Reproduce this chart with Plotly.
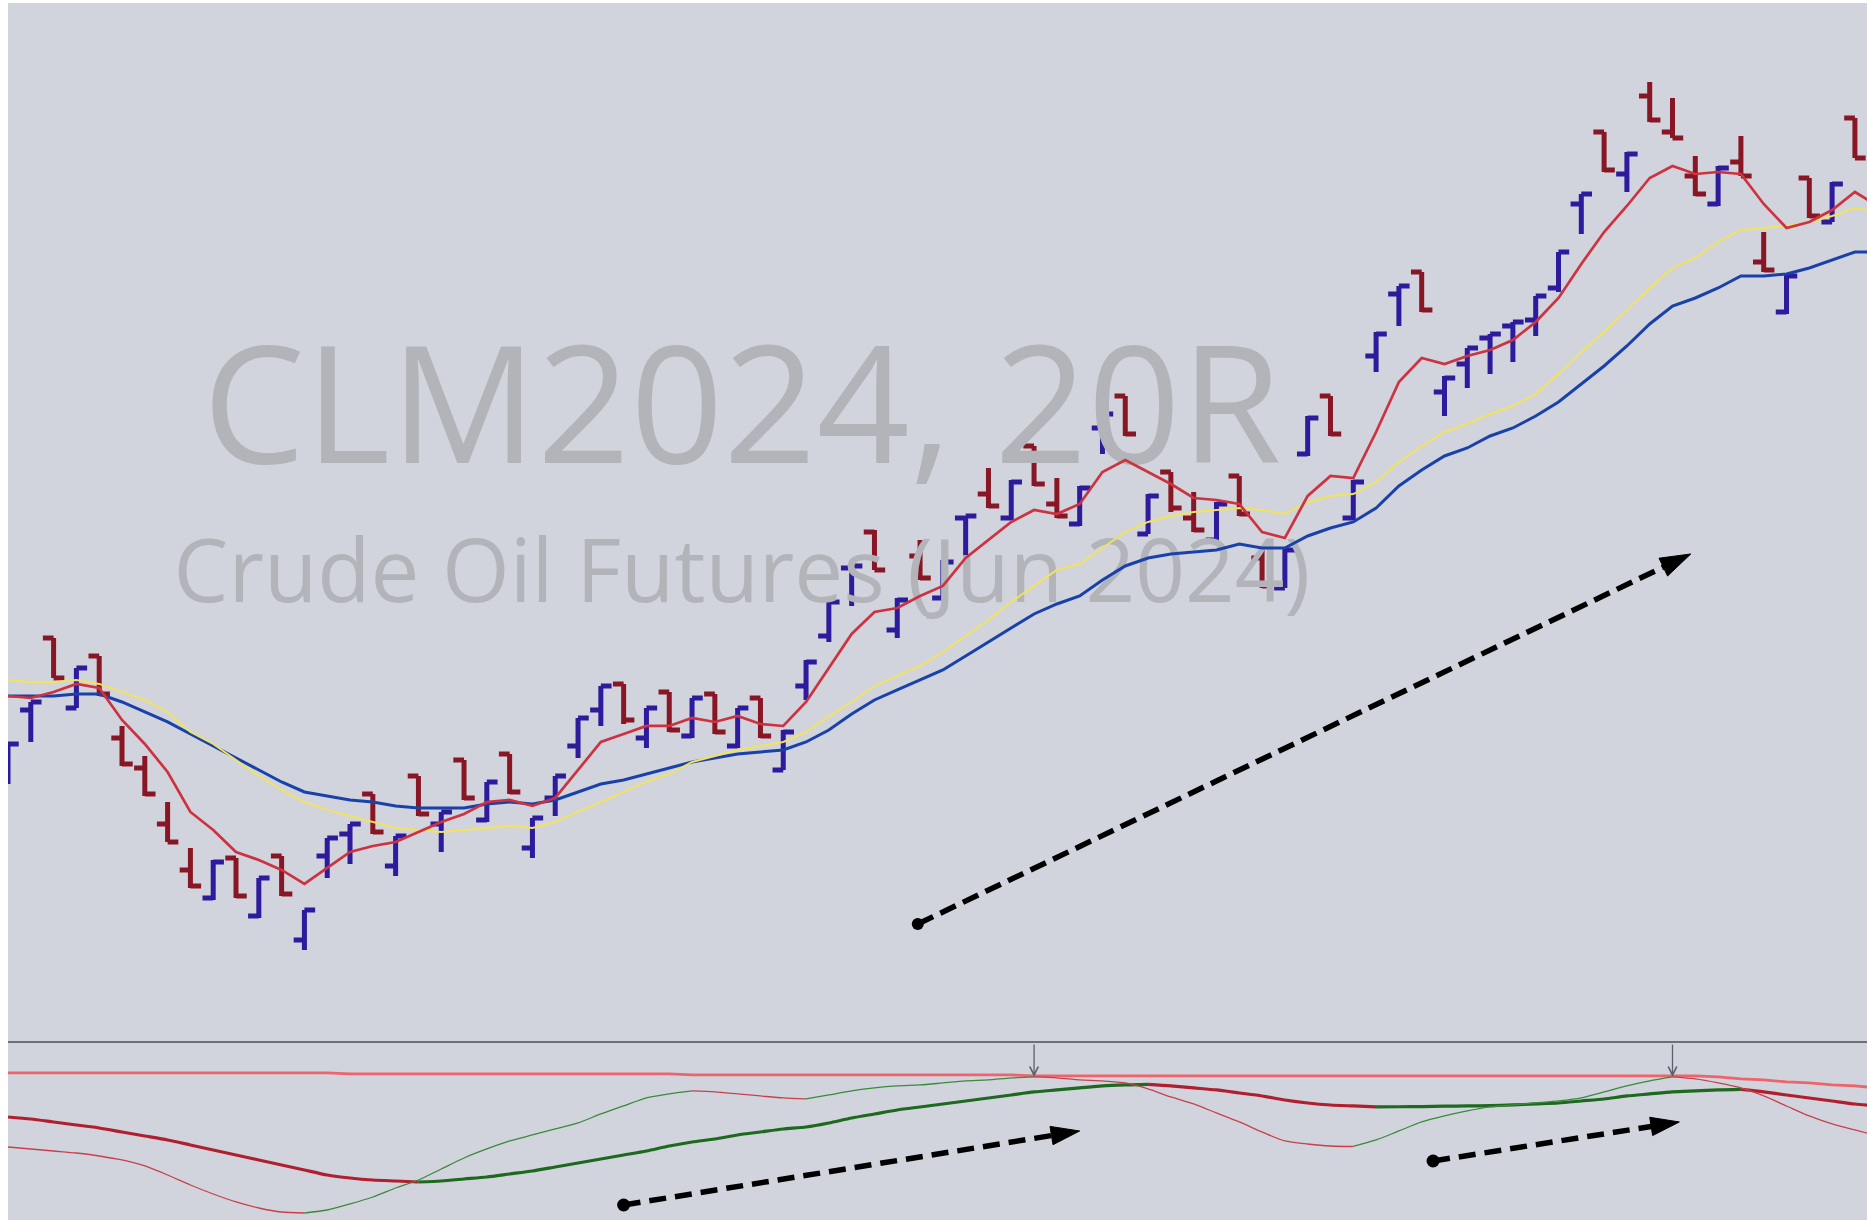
import plotly.graph_objects as go

# ---------------- data ----------------
# 20-tick range bars, CLM2024 (Crude Oil Futures Jun 2024)
bar_open = [83.65, 83.97, 84.33, 83.98, 84.24, 83.83, 83.68, 83.40, 83.17, 83.03,
            83.23, 82.94, 83.24, 82.82, 83.24, 83.35, 83.55, 83.19, 83.64, 83.40,
            83.72, 83.42, 83.75, 83.28, 83.53, 83.79, 83.97, 84.10, 83.83, 84.06,
            83.84, 84.05, 83.79, 84.03, 83.67, 84.09, 84.34, 84.68, 84.86, 84.37,
            84.74, 84.53, 84.93, 85.05, 84.93, 85.29, 85.00, 84.90, 85.38, 85.54,
            84.85, 85.16, 84.93, 84.82, 85.14, 84.73, 84.58, 85.25, 85.54, 84.93,
            85.74, 86.05, 86.16, 85.56, 85.70, 85.83, 85.89, 85.92, 86.08, 86.50,
            86.86, 86.65, 87.04, 86.86, 86.64, 86.50, 86.71, 86.21, 85.96, 86.63,
            86.41, 86.93]
bar_high = [83.80, 84.01, 84.33, 84.18, 84.24, 83.89, 83.74, 83.51, 83.28, 83.22,
            83.23, 83.13, 83.24, 82.97, 83.33, 83.40, 83.55, 83.34, 83.64, 83.46,
            83.72, 83.61, 83.75, 83.43, 83.64, 83.93, 84.09, 84.10, 83.98, 84.06,
            84.03, 84.05, 83.98, 84.03, 83.87, 84.22, 84.51, 84.69, 84.87, 84.53,
            84.82, 84.72, 84.94, 85.18, 85.12, 85.29, 85.13, 85.09, 85.45, 85.54,
            85.05, 85.16, 85.06, 85.01, 85.14, 84.78, 84.78, 85.44, 85.54, 85.12,
            85.86, 86.09, 86.16, 85.64, 85.78, 85.85, 85.91, 86.04, 86.26, 86.55,
            86.86, 86.76, 87.11, 87.03, 86.74, 86.69, 86.84, 86.36, 86.15, 86.63,
            86.61, 86.93]
bar_low = [83.60, 83.81, 84.13, 83.98, 84.04, 83.69, 83.54, 83.31, 83.08, 83.02,
           83.03, 82.93, 83.04, 82.77, 83.13, 83.20, 83.35, 83.14, 83.44, 83.26,
           83.52, 83.41, 83.55, 83.23, 83.44, 83.73, 83.89, 83.90, 83.78, 83.86,
           83.83, 83.85, 83.78, 83.83, 83.67, 84.02, 84.31, 84.49, 84.67, 84.33,
           84.62, 84.52, 84.74, 84.98, 84.92, 85.09, 84.93, 84.89, 85.25, 85.34,
           84.85, 84.96, 84.86, 84.81, 84.94, 84.58, 84.58, 85.24, 85.34, 84.92,
           85.66, 85.89, 85.96, 85.44, 85.58, 85.65, 85.71, 85.84, 86.06, 86.35,
           86.66, 86.56, 86.91, 86.83, 86.54, 86.49, 86.64, 86.16, 85.95, 86.43,
           86.41, 86.73]
bar_close = [83.80, 84.01, 84.13, 84.18, 84.05, 83.70, 83.55, 83.31, 83.09, 83.21,
             83.04, 83.13, 83.05, 82.97, 83.33, 83.40, 83.36, 83.34, 83.45, 83.46,
             83.53, 83.61, 83.56, 83.43, 83.64, 83.93, 84.09, 83.92, 83.98, 83.87,
             84.03, 83.86, 83.98, 83.84, 83.86, 84.21, 84.51, 84.69, 84.67, 84.52,
             84.63, 84.71, 84.94, 84.99, 85.11, 85.10, 84.94, 85.08, 85.45, 85.35,
             85.04, 84.98, 84.87, 85.00, 84.95, 84.59, 84.77, 85.43, 85.35, 85.11,
             85.85, 86.09, 85.97, 85.63, 85.78, 85.85, 85.91, 86.04, 86.26, 86.55,
             86.67, 86.75, 86.92, 86.83, 86.55, 86.68, 86.64, 86.17, 86.14, 86.44,
             86.60, 86.73]

# moving averages (one value per bar; the last value lies just past the right edge)
ma_fast = [84.04, 84.03, 84.06, 84.10, 84.08, 83.92, 83.80, 83.66, 83.46, 83.37,
           83.26, 83.22, 83.17, 83.10, 83.18, 83.26, 83.29, 83.31, 83.36, 83.41,
           83.45, 83.51, 83.52, 83.49, 83.53, 83.67, 83.81, 83.85, 83.89, 83.89,
           83.93, 83.91, 83.94, 83.90, 83.89, 84.01, 84.18, 84.35, 84.46, 84.48,
           84.54, 84.59, 84.73, 84.82, 84.91, 84.97, 84.95, 85.00, 85.16, 85.22,
           85.16, 85.10, 85.03, 85.02, 85.00, 84.86, 84.83, 85.04, 85.14, 85.13,
           85.36, 85.61, 85.73, 85.70, 85.74, 85.77, 85.82, 85.91, 86.03, 86.20,
           86.36, 86.49, 86.63, 86.69, 86.65, 86.66, 86.65, 86.50, 86.38, 86.41,
           86.47, 86.56, 86.49]
ma_mid = [84.12, 84.11, 84.11, 84.12, 84.10, 84.06, 84.02, 83.96, 83.86, 83.80,
          83.72, 83.64, 83.57, 83.51, 83.47, 83.44, 83.41, 83.38, 83.37, 83.36,
          83.37, 83.38, 83.39, 83.38, 83.41, 83.46, 83.51, 83.56, 83.61, 83.65,
          83.71, 83.74, 83.77, 83.79, 83.81, 83.86, 83.94, 84.01, 84.09, 84.14,
          84.19, 84.26, 84.34, 84.42, 84.51, 84.59, 84.67, 84.70, 84.78, 84.86,
          84.91, 84.94, 84.96, 84.97, 84.98, 84.97, 84.95, 85.01, 85.04, 85.05,
          85.11, 85.21, 85.29, 85.36, 85.40, 85.45, 85.49, 85.55, 85.65, 85.76,
          85.86, 85.97, 86.08, 86.18, 86.23, 86.31, 86.37, 86.38, 86.39, 86.41,
          86.44, 86.48, 86.46]
ma_slow = [84.04, 84.04, 84.04, 84.05, 84.05, 84.01, 83.96, 83.91, 83.85, 83.79,
           83.73, 83.67, 83.61, 83.56, 83.54, 83.52, 83.51, 83.49, 83.48, 83.48,
           83.48, 83.50, 83.51, 83.50, 83.52, 83.56, 83.60, 83.62, 83.65, 83.68,
           83.71, 83.73, 83.75, 83.76, 83.77, 83.81, 83.87, 83.95, 84.02, 84.07,
           84.12, 84.17, 84.24, 84.31, 84.38, 84.45, 84.50, 84.54, 84.62, 84.69,
           84.73, 84.75, 84.76, 84.77, 84.80, 84.78, 84.78, 84.84, 84.88, 84.91,
           84.98, 85.09, 85.17, 85.24, 85.28, 85.34, 85.38, 85.44, 85.51, 85.60,
           85.69, 85.79, 85.90, 85.99, 86.03, 86.08, 86.14, 86.14, 86.15, 86.18,
           86.22, 86.26, 86.26]

# lower pane oscillator
osc_fast = [-0.73, -0.75, -0.77, -0.79, -0.82, -0.86, -0.92, -1.01, -1.11, -1.20,
            -1.28, -1.34, -1.38, -1.39, -1.36, -1.30, -1.23, -1.14, -1.06, -0.95,
            -0.84, -0.75, -0.67, -0.61, -0.55, -0.49, -0.40, -0.32, -0.24, -0.20,
            -0.17, -0.18, -0.20, -0.22, -0.24, -0.25, -0.21, -0.17, -0.14, -0.12,
            -0.11, -0.09, -0.07, -0.06, -0.04, -0.03, -0.04, -0.06, -0.07, -0.09,
            -0.15, -0.23, -0.30, -0.39, -0.48, -0.58, -0.67, -0.70, -0.72, -0.725,
            -0.66, -0.57, -0.48, -0.42, -0.37, -0.33, -0.31, -0.29, -0.27, -0.24,
            -0.18, -0.12, -0.07, -0.03, -0.05, -0.09, -0.14, -0.22, -0.32, -0.42,
            -0.50, -0.56, -0.62]
osc_slow = [-0.43, -0.45, -0.48, -0.51, -0.54, -0.58, -0.62, -0.66, -0.71, -0.76,
            -0.81, -0.86, -0.91, -0.96, -1.01, -1.04, -1.06, -1.07, -1.08, -1.07,
            -1.05, -1.03, -1.00, -0.97, -0.93, -0.89, -0.85, -0.81, -0.77, -0.72,
            -0.68, -0.65, -0.61, -0.58, -0.55, -0.53, -0.49, -0.44, -0.40, -0.36,
            -0.33, -0.30, -0.27, -0.24, -0.21, -0.18, -0.16, -0.14, -0.12, -0.11,
            -0.105, -0.12, -0.14, -0.16, -0.19, -0.22, -0.26, -0.29, -0.31, -0.32,
            -0.33, -0.328, -0.326, -0.322, -0.32, -0.316, -0.31, -0.30, -0.29, -0.27,
            -0.25, -0.22, -0.20, -0.18, -0.17, -0.16, -0.155, -0.18, -0.21, -0.24,
            -0.27, -0.30, -0.32]
osc_ref = [0.01, 0.01, 0.01, 0.01, 0.01, 0.01, 0.01, 0.01, 0.01, 0.01,
           0.01, 0.01, 0.01, 0.01, 0.01, 0.00, 0.00, 0.00, 0.00, 0.00,
           0.00, 0.00, 0.00, 0.00, 0.00, 0.00, 0.00, 0.00, 0.00, 0.00,
           -0.01, -0.01, -0.01, -0.01, -0.01, -0.01, -0.01, -0.01, -0.01, -0.01,
           -0.01, -0.01, -0.01, -0.01, -0.01, -0.02, -0.02, -0.02, -0.02, -0.02,
           -0.02, -0.02, -0.02, -0.02, -0.02, -0.02, -0.02, -0.02, -0.02, -0.02,
           -0.02, -0.02, -0.02, -0.02, -0.02, -0.02, -0.02, -0.02, -0.02, -0.02,
           -0.02, -0.02, -0.02, -0.02, -0.02, -0.03, -0.05, -0.06, -0.08, -0.09,
           -0.11, -0.12, -0.14]
osc_peaks = [45, 73]

# hand-drawn trend arrows: (bar_start, value_start, bar_end, value_end)
price_arrows = [(39.9, 82.90, 73.8, 84.75)]
osc_arrows = [(27.0, -1.31, 47.0, -0.57), (62.5, -0.87, 73.3, -0.48)]

title_main = "CLM2024, 20R"
title_sub = "Crude Oil Futures (Jun 2024)"

# ---------------- styling ----------------
BG = "#d1d4dc"
UP = "#2d1a9c"
DOWN = "#891624"
BAR_W = 5
X_RANGE = [0, 81.53]
Y_RANGE = [82.31, 87.505]
Y2_RANGE = [-1.46, 0.32]
SPLIT = 0.1463

bars_x = list(range(len(bar_open)))
line_x = list(range(len(ma_fast)))

fig = go.Figure()


def frac(rng, f):
    return rng[0] + f * (rng[1] - rng[0])


# watermark (drawn first so it sits under everything)
fig.add_trace(go.Scatter(
    x=[frac(X_RANGE, 0.3948)], y=[frac(Y_RANGE, 0.596)], mode="text",
    text=[title_main], textposition="middle center",
    textfont=dict(family="Open Sans", size=163, color="#b3b4b9"),
    hoverinfo="skip", showlegend=False))
fig.add_trace(go.Scatter(
    x=[frac(X_RANGE, 0.3948)], y=[frac(Y_RANGE, 0.4445)], mode="text",
    text=[title_sub], textposition="middle center",
    textfont=dict(family="Open Sans", size=87, color="#b3b4b9"),
    hoverinfo="skip", showlegend=False))

fig.add_trace(go.Ohlc(
    x=bars_x, open=bar_open, high=bar_high, low=bar_low, close=bar_close,
    line=dict(width=BAR_W),
    increasing=dict(line=dict(color=UP, width=BAR_W)),
    decreasing=dict(line=dict(color=DOWN, width=BAR_W)),
    tickwidth=0.47, hoverinfo="skip", showlegend=False,
    xaxis="x", yaxis="y"))

for vals, col, w in [(ma_slow, "#1941aa", 3.0), (ma_mid, "#f2e35a", 1.9), (ma_fast, "#cd3240", 2.7)]:
    fig.add_trace(go.Scatter(x=line_x, y=vals, mode="lines",
                             line=dict(color=col, width=w),
                             hoverinfo="skip", showlegend=False,
                             xaxis="x", yaxis="y"))

# lower pane
fig.add_trace(go.Scatter(x=line_x, y=osc_ref, mode="lines",
                         line=dict(color="rgba(244,80,88,0.85)", width=2.8),
                         hoverinfo="skip", showlegend=False, xaxis="x2", yaxis="y2"))


def colored_runs(vals, up_col, dn_col, width):
    runs = []
    start = 0
    cur = vals[1] >= vals[0]
    for i in range(2, len(vals)):
        d = vals[i] >= vals[i - 1]
        if d != cur:
            runs.append((start, i - 1, cur))
            start = i - 1
            cur = d
    runs.append((start, len(vals) - 1, cur))
    for s, e, up in runs:
        fig.add_trace(go.Scatter(
            x=line_x[s:e + 1], y=vals[s:e + 1], mode="lines",
            line=dict(color=up_col if up else dn_col, width=width,
                      shape="spline", smoothing=0.7),
            hoverinfo="skip", showlegend=False, xaxis="x2", yaxis="y2"))


colored_runs(osc_slow, "#1d6a1f", "#b11f2f", 3.2)
colored_runs(osc_fast, "#3a8a3c", "#c8404b", 1.3)


def dashed_arrow(a, xa, ya, width, dot, head, dash):
    x0, y0, x1, y1 = a
    fig.add_trace(go.Scatter(
        x=[x0, x1], y=[y0, y1], mode="lines+markers",
        line=dict(color="black", width=width, dash=dash),
        marker=dict(symbol="arrow", size=[0, head], angleref="previous",
                    color="black", opacity=1, line=dict(width=1, color="black")),
        hoverinfo="skip", showlegend=False, xaxis=xa, yaxis=ya))
    fig.add_trace(go.Scatter(
        x=[x0], y=[y0], mode="markers",
        marker=dict(symbol="circle", size=dot, color="black", line=dict(width=0)),
        hoverinfo="skip", showlegend=False, xaxis=xa, yaxis=ya))


for a in price_arrows:
    dashed_arrow(a, "x", "y", 5.5, 12, 32, "17px,8px")
for a in osc_arrows:
    dashed_arrow(a, "x2", "y2", 5.5, 13, 30, "17px,9px")

annotations = []
for p in osc_peaks:
    annotations.append(dict(
        x=p, y=osc_fast[p], xref="x2", yref="y2", text="", showarrow=True,
        ax=0, ay=-34, arrowhead=5, arrowsize=1.3, arrowwidth=1.3,
        arrowcolor="#5d606b", standoff=0))

fig.update_layout(
    width=1867, height=1220,
    margin=dict(l=8, r=0, t=3, b=0),
    paper_bgcolor="white", plot_bgcolor=BG,
    showlegend=False, hovermode=False,
    xaxis=dict(domain=[0, 1], range=X_RANGE, visible=False, anchor="y",
               rangeslider=dict(visible=False), fixedrange=True),
    yaxis=dict(domain=[SPLIT, 1], range=Y_RANGE, visible=False, anchor="x"),
    xaxis2=dict(domain=[0, 1], matches="x", range=X_RANGE, visible=False, anchor="y2"),
    yaxis2=dict(domain=[0, SPLIT], range=Y2_RANGE, visible=False, anchor="x2"),
    shapes=[dict(type="line", xref="paper", yref="paper", x0=0, x1=1,
                 y0=SPLIT, y1=SPLIT, line=dict(color="#4a4d57", width=1.6))],
    annotations=annotations,
)

fig.write_html("out.html", config={"displayModeBar": False},
               post_script="document.body.style.margin='0';document.body.style.overflow='hidden';")
